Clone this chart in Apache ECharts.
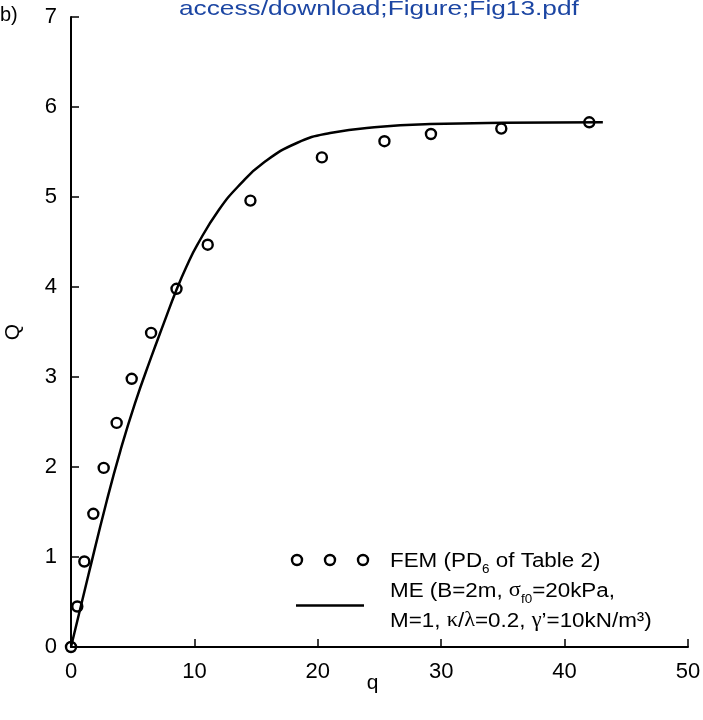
<!DOCTYPE html>
<html lang="en" style="height: 100%">
<head>
  <meta charset="utf-8">
</head>
<body style="height: 100%; margin: 0; background: #fff">
  <div id="container" style="width: 703px; height: 720px"></div>

  <script type="text/javascript" src="https://cdn.jsdelivr.net/npm/echarts@6/dist/echarts.min.js"></script>

  <script type="text/javascript">
    // FEM points (PD6 of Table 2)
    var femQ_x = [0, 0.51, 1.08, 1.81, 2.65, 3.70, 4.92, 6.49, 8.55, 11.08, 14.54, 20.33, 25.4, 29.17, 34.87, 42.0];
    var femQ_y = [0, 0.45, 0.95, 1.48, 1.99, 2.49, 2.98, 3.49, 3.98, 4.47, 4.96, 5.44, 5.62, 5.70, 5.76, 5.83];

    // ME curve
    var meQ_x = [0, 1.41, 2.89, 4.0, 5.19, 6.5, 7.5, 8.55, 9.4, 10.2, 11.95, 13.7, 15.6, 18.3, 21.0, 25.1, 29.1, 35.0, 43.1];
    var meQ_y = [0, 0.80, 1.62, 2.18, 2.71, 3.22, 3.59, 3.97, 4.24, 4.46, 4.85, 5.14, 5.38, 5.60, 5.71, 5.78, 5.81, 5.825, 5.83];

    var xTicks = [0, 10, 20, 30, 40, 50];
    var yTicks = [0, 1, 2, 3, 4, 5, 6, 7];

    function pairs(xs, ys) {
      return xs.map(function (x, i) { return [x, ys[i]]; });
    }

    var dom = document.getElementById('container');
    var myChart = echarts.init(dom, null, { renderer: 'canvas' });

    var axisFont = 'Liberation Sans';
    var option = {
      backgroundColor: '#fff',
      animation: false,
      grid: { left: 71, right: 15, top: 17, bottom: 73, containLabel: false, outerBoundsMode: 'none' },
      xAxis: {
        type: 'value',
        min: xTicks[0],
        max: xTicks[xTicks.length - 1],
        interval: 10,
        name: 'q',
        nameLocation: 'middle',
        nameGap: 26,
        nameMoveOverlap: false,
        nameTextStyle: { fontSize: 21, fontFamily: axisFont, color: '#000', padding: [0, 14, 0, 0] },
        axisLine: { lineStyle: { color: '#000', width: 2 } },
        axisTick: { inside: true, length: 8, lineStyle: { color: '#000', width: 1.5 } },
        axisLabel: { fontSize: 22, fontFamily: axisFont, color: '#000', margin: 14 },
        splitLine: { show: false }
      },
      yAxis: {
        type: 'value',
        min: yTicks[0],
        max: yTicks[yTicks.length - 1],
        interval: 1,
        name: 'Q',
        nameLocation: 'middle',
        nameGap: 47,
        nameMoveOverlap: false,
        nameTextStyle: { fontSize: 21, fontFamily: axisFont, color: '#000' },
        axisLine: { show: true, lineStyle: { color: '#000', width: 2 } },
        axisTick: { show: true, inside: true, length: 8, lineStyle: { color: '#000', width: 1.5 } },
        axisLabel: { fontSize: 22, fontFamily: axisFont, color: '#000', margin: 14 },
        splitLine: { show: false }
      },
      series: [
        {
          name: 'ME',
          type: 'line',
          data: pairs(meQ_x, meQ_y),
          showSymbol: false,
          smooth: 0.5,
          lineStyle: { color: '#000', width: 2.5 },
          z: 2
        },
        {
          name: 'FEM',
          type: 'scatter',
          data: pairs(femQ_x, femQ_y),
          symbol: 'circle',
          symbolSize: 10,
          itemStyle: { color: 'rgba(0,0,0,0)', borderColor: '#000', borderWidth: 2.4, opacity: 1 },
          z: 3
        }
      ],
      graphic: [
        {
          type: 'text', x: 179, y: 9, scaleX: 1.25,
          style: { text: 'access/download;Figure;Fig13.pdf', fontSize: 21, fontFamily: axisFont, fill: '#1c46a3', verticalAlign: 'middle' }
        },
        {
          type: 'text', x: 0, y: 15,
          style: { text: 'b)', fontSize: 20, fontFamily: axisFont, fill: '#000', verticalAlign: 'middle' }
        },
        { type: 'circle', shape: { cx: 297, cy: 560, r: 5 }, style: { fill: 'none', stroke: '#000', lineWidth: 2.4 } },
        { type: 'circle', shape: { cx: 330, cy: 560, r: 5 }, style: { fill: 'none', stroke: '#000', lineWidth: 2.4 } },
        { type: 'circle', shape: { cx: 363, cy: 560, r: 5 }, style: { fill: 'none', stroke: '#000', lineWidth: 2.4 } },
        { type: 'line', shape: { x1: 296, y1: 605.5, x2: 364, y2: 605.5 }, style: { stroke: '#000', lineWidth: 2.5 } },
        {
          type: 'text', x: 390, y: 546, scaleX: 1.12,
          style: {
            text: '{a|FEM (PD}{s|6}{a| of Table 2)}\n' +
                  '{a|ME (B=2m, }{g|σ}{s|f0}{a|=20kPa,}\n' +
                  '{a|M=1, }{g|κ}{a|/}{g|λ}{a|=0.2, }{g|γ}{a|’=10kN/m³)}',
            fill: '#000',
            verticalAlign: 'top',
            rich: {
              a: { fontSize: 20, fontFamily: axisFont, lineHeight: 30, fill: '#000' },
              g: { fontSize: 20, fontFamily: 'Liberation Serif', lineHeight: 30, fill: '#000' },
              s: { fontSize: 12, fontFamily: axisFont, lineHeight: 22, verticalAlign: 'bottom', fill: '#000' }
            }
          }
        }
      ]
    };

    myChart.setOption(option);
    window.addEventListener('resize', myChart.resize);
  </script>
</body>
</html>
